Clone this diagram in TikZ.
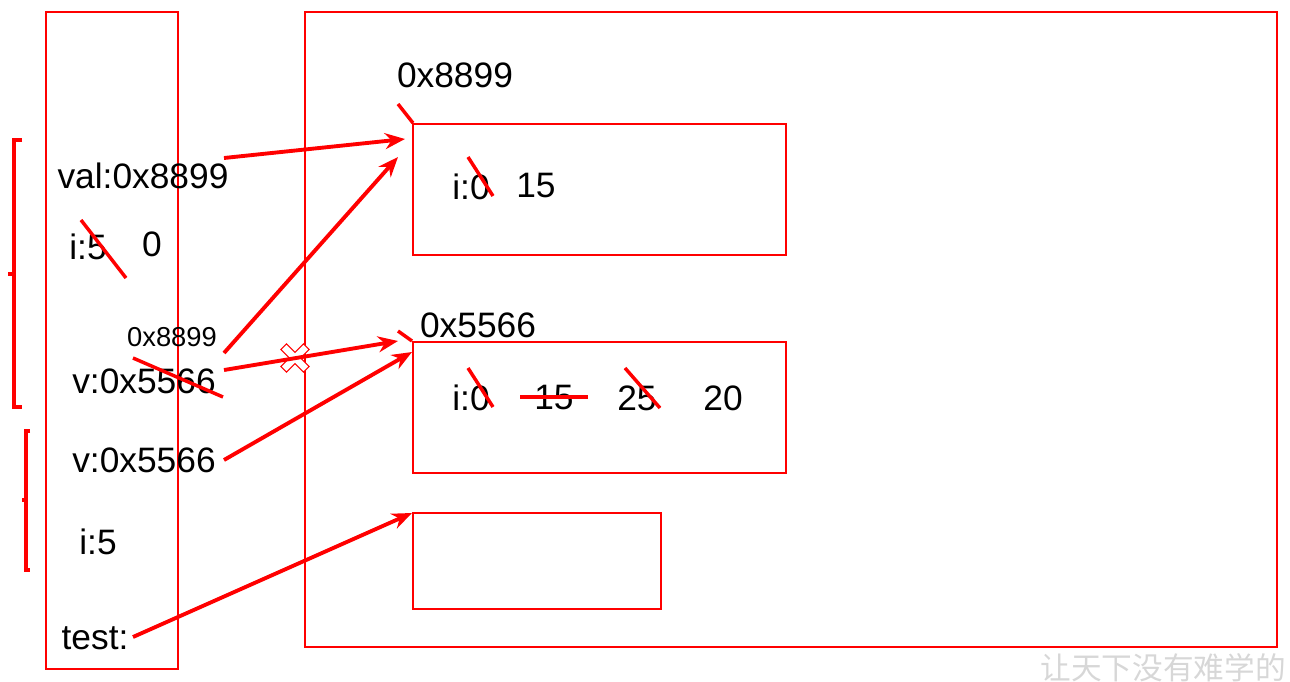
\documentclass[tikz,border=0pt]{standalone}
\usepackage{fontspec}
\setmainfont{Liberation Sans}
\newfontfamily\cjkfont{Noto Sans CJK SC}
\usetikzlibrary{arrows.meta}
\definecolor{myred}{RGB}{255,0,0}
\definecolor{wm}{RGB}{215,215,215}
\tikzset{
  frame/.style={draw=myred, line width=1.2pt},
  lbl/.style={inner sep=0pt, font=\fontsize{26.5}{30}\selectfont},
  smalllbl/.style={inner sep=0pt, font=\fontsize{20.5}{24}\selectfont},
  strike/.style={draw=myred, line width=2.6pt},
  ptr/.style={draw=myred, line width=2.9pt, -{Stealth[length=15pt,width=12pt]}},
  bracketline/.style={draw=myred, line width=3pt},
}
\begin{document}
\begin{tikzpicture}[x=0.75pt,y=-0.75pt]
\useasboundingbox (0,0) rectangle (1290,682);
% frames
\draw[frame] (46,12) rectangle (178,669);
\draw[frame] (305,12) rectangle (1277,647);
\node[frame, minimum width=373*0.75pt, minimum height=131*0.75pt, anchor=north west, inner sep=0pt] (box1) at (412,123) {};
\node[frame, minimum width=373*0.75pt, minimum height=131*0.75pt, anchor=north west, inner sep=0pt] (box2) at (412,341) {};
\node[frame, minimum width=248*0.75pt, minimum height=96*0.75pt, anchor=north west, inner sep=0pt] (box3) at (412,512) {};
% brackets
\draw[bracketline] (22,140) -- (14,140) -- (14,407) -- (22,407);
\draw[bracketline] (14,274) -- (8,274);
\draw[bracketline] (30,431) -- (26,431) -- (26,570) -- (30,570);
\draw[bracketline] (26,500) -- (22,500);
% left column texts
\node[lbl] (val) at (143,176) {val:0x8899};
\node[lbl] (i5) at (88,247) {i:5};
\node[lbl] (zero) at (152,244) {0};
\node[smalllbl] (addr) at (172,337) {0x8899};
\node[lbl] (v1) at (144,381) {v:0x5566};
\node[lbl] (v2) at (144,460) {v:0x5566};
\node[lbl] (i5b) at (98,542) {i:5};
\node[lbl] (test) at (95,638) {test:};
% heap labels
\node[lbl] (a1) at (455,75) {0x8899};
\node[lbl] (a2) at (478,325) {0x5566};
\node[lbl] (b1i) at (471,187) {i:0};
\node[lbl] (b1v) at (536,186) {15};
\node[lbl] (b2i) at (471,398) {i:0};
\node[lbl] (b2a) at (554,398) {15};
\node[lbl] (b2b) at (637,398) {25};
\node[lbl] (b2c) at (723,398) {20};
% strikes
\draw[strike] (81,220) -- (126,278);
\draw[strike] (133,358) -- (223,397);
\draw[strike] (468,157) -- (493,196);
\draw[strike] (398,104) -- (413,123);
\draw[strike] (468,368) -- (493,407);
\draw[strike] (520,397) -- (588,397);
\draw[strike] (625,368) -- (660,408);
\draw[strike] (398,331) -- (412,341);
% cross mark
\begin{scope}[shift={(295,358)}, rotate=45]
\draw[draw=myred, line width=0.8pt, fill=white] (-4,-16) -- (4,-16) -- (4,-4) -- (16,-4) -- (16,4) -- (4,4) -- (4,16) -- (-4,16) -- (-4,4) -- (-16,4) -- (-16,-4) -- (-4,-4) -- cycle;
\end{scope}
% pointer endpoints
\coordinate (s1) at (224,158);
\coordinate (s2) at (224,353);
\coordinate (s3) at (224,370);
\coordinate (s4) at (224,460);
\coordinate (s5) at (133,637);
\coordinate (e1) at (405,139);
\coordinate (e2) at (398,157);
\coordinate (e3) at (398,341);
\coordinate (e4) at (412,352);
\coordinate (e5) at (412,513);
\draw[ptr] (s1) -- (e1);
\draw[ptr] (s2) -- (e2);
\draw[ptr] (s3) -- (e3);
\draw[ptr] (s4) -- (e4);
\draw[ptr] (s5) -- (e5);
% watermark
\node[inner sep=0pt, text=wm, font=\cjkfont\fontsize{23}{26}\selectfont, anchor=east] (wmk) at (1286,668) {让天下没有难学的};
\end{tikzpicture}
\end{document}
